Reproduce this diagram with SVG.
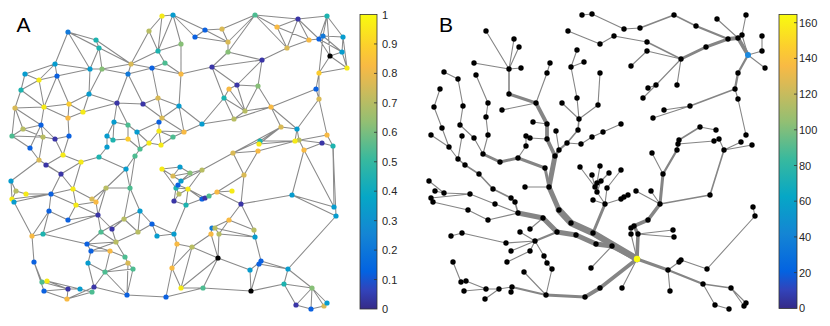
<svg xmlns="http://www.w3.org/2000/svg" width="830" height="326" viewBox="0 0 830 326">
<style>
.ea{fill:none;stroke:#8a8a8a;stroke-width:1.05}
.eb{fill:none;stroke:#858585;stroke-linecap:round;stroke-linejoin:round}
.I{fill:#3a35a6}.B{fill:#0b61e0}.B2{fill:#1279d9}.C{fill:#079cce}.T{fill:#1db3af}.G{fill:#4dbc91}.gO{fill:#87bf77}.O{fill:#b8bd63}.Ol{fill:#d9ba56}.Or{fill:#f8ba44}.Yo{fill:#fccc2e}.Y{fill:#f5ea18}.K{fill:#000}
.lab{font-family:"Liberation Sans",Arial,sans-serif;font-size:11px;fill:#262626}
.pl{font-family:"Liberation Sans",Arial,sans-serif;font-size:21px;fill:#000}
.cb{stroke:#333;stroke-width:0.8}
.tk{stroke:#333;stroke-width:0.8}
</style>
<defs>
<linearGradient id="parula" x1="0" y1="1" x2="0" y2="0">
<stop offset="0" stop-color="#352a87"/>
<stop offset="0.063" stop-color="#3243ba"/>
<stop offset="0.127" stop-color="#0363e1"/>
<stop offset="0.254" stop-color="#1485d4"/>
<stop offset="0.381" stop-color="#06a7c6"/>
<stop offset="0.508" stop-color="#38b99e"/>
<stop offset="0.635" stop-color="#92bf73"/>
<stop offset="0.762" stop-color="#d9ba56"/>
<stop offset="0.825" stop-color="#f8ba44"/>
<stop offset="0.889" stop-color="#fcce2e"/>
<stop offset="1" stop-color="#f9fb0e"/>
</linearGradient>
</defs>
<rect width="830" height="326" fill="#fff"/>
<text class="pl" x="16.5" y="32.3">A</text>
<text class="pl" x="439" y="32.3">B</text>

<g id="connectorsA" class="ea">
<path d="M68 32L96 40 M68 32L99 48 M68 32L55 64 M68 32L90 69 M68 32L131 64 M96 40L99 48 M96 40L131 64 M99 48L102 69 M99 48L90 69 M131 64L158 51 M131 64L149 31 M131 64L152 68 M131 64L128 74 M131 64L102 69 M149 31L162 16 M149 31L158 51 M162 16L173 15 M162 16L158 51 M173 15L158 51 M173 15L181 44 M158 51L165 63 M158 51L181 44 M165 63L181 74 M165 63L152 68 M152 68L181 74 M152 68L158 98 M55 64L25 74 M55 64L39 80 M55 64L57 76 M55 64L90 69 M25 74L39 80 M25 74L21 90 M39 80L57 76 M39 80L21 90 M39 80L44 107 M57 76L90 69 M57 76L69 104 M57 76L44 107 M90 69L102 69 M90 69L89 94 M102 69L128 74 M102 69L89 94 M128 74L152 68 M128 74L117 103 M128 74L143 104 M21 90L15 108 M21 90L44 107 M89 94L69 104 M89 94L83 112 M89 94L117 103 M15 108L44 107 M15 108L23 129 M15 108L12 136 M15 108L41 125 M44 107L69 104 M44 107L41 125 M44 107L68 118 M69 104L83 112 M69 104L68 118 M83 112L117 103 M83 112L68 118 M117 103L143 104 M117 103L114 122 M117 103L128 125 M143 104L158 98 M143 104L162 118 M158 98L179 106 M158 98L162 118 M162 118L179 106 M162 118L159 122 M41 125L23 129 M41 125L43 137 M41 125L55 139 M41 125L30 148 M23 129L12 136 M23 129L43 137 M12 136L43 137 M12 136L30 148 M43 137L55 139 M43 137L39 160 M55 139L69 136 M55 139L63 155 M68 118L69 136 M69 136L63 155 M114 122L107 136 M114 122L128 125 M114 122L113 140 M128 125L137 132 M128 125L128 139 M137 132L149 143 M137 132L140 149 M137 132L159 122 M159 122L159 131 M159 131L173 137 M159 131L149 143 M159 131L161 145 M149 143L161 145 M149 143L140 149 M107 136L113 140 M107 136L107 147 M113 140L128 139 M128 139L140 149 M140 149L135 156 M63 155L81 162 M63 155L46 165 M99 157L81 162 M179 106L181 74 M179 106L202 124 M179 106L184 132 M173 137L184 132 M173 137L161 145 M184 132L202 124 M162 118L184 132 M159 131L184 132 M30 148L39 160 M107 147L99 157 M99 157L126 169"/>
<path d="M11 181L39 160 M11 181L16 191 M11 181L12 199 M39 160L61 174 M46 165L61 174 M61 174L51 194 M61 174L73 189 M61 174L81 162 M81 162L73 189 M135 156L126 169 M135 156L130 188 M126 169L106 188 M126 169L130 188 M106 188L130 188 M106 188L92 199 M106 188L96 202 M106 188L98 215 M16 191L26 194 M16 191L12 199 M26 194L51 194 M12 199L51 194 M14 202L51 194 M14 202L32 236 M51 194L73 189 M51 194L49 211 M51 194L76 205 M73 189L76 205 M73 189L92 199 M92 199L96 202 M76 205L96 202 M76 205L98 215 M76 205L68 220 M49 211L68 220 M49 211L43 234 M49 211L32 236 M68 220L98 215 M43 234L98 215 M43 234L32 236 M96 202L98 215 M98 215L112 229 M98 215L101 232 M130 188L140 211 M130 188L124 219 M124 219L140 211 M124 219L112 229 M124 219L138 232 M124 219L101 232 M140 211L152 224 M140 211L138 232 M152 224L157 236 M152 224L174 234 M138 232L152 224 M138 232L116 242 M112 229L116 242 M101 232L116 242 M101 232L87 244 M43 234L87 244 M32 236L34 262 M34 262L42 282 M34 262L44 291 M42 282L47 281 M42 282L68 289 M47 281L68 289 M47 281L92 292 M44 291L68 289 M44 291L67 299 M68 289L80 289 M68 289L67 299 M80 289L92 292 M67 299L92 292 M67 299L94 287 M87 244L91 251 M87 244L116 242 M87 244L110 251 M91 251L110 251 M91 251L116 242 M110 251L125 257 M116 242L125 257 M91 251L88 263 M88 263L105 272 M88 263L94 287 M110 251L105 272 M125 257L128 263 M128 263L105 272 M128 263L133 269 M128 263L127 295 M105 272L94 287 M105 272L127 295 M105 272L133 269 M94 287L127 295 M133 269L127 295 M127 295L166 297 M166 297L172 268 M172 268L177 244 M172 268L181 288 M157 236L174 234 M174 234L177 244"/>
<path d="M173 15L195 37 M173 15L205 30 M205 30L222 29 M195 37L205 30 M195 37L228 42 M205 30L228 42 M222 29L255 15 M222 29L228 42 M228 42L255 15 M228 52L255 15 M228 42L228 52 M228 52L262 60 M228 52L212 67 M255 15L298 19 M255 15L277 27 M255 15L287 48 M277 27L298 19 M277 27L287 48 M277 27L309 40 M298 19L327 16 M298 19L287 48 M298 19L309 40 M298 19L319 39 M327 16L323 36 M327 16L343 37 M327 16L319 39 M327 16L330 56 M323 36L343 37 M319 39L342 52 M323 36L342 52 M309 40L319 39 M287 48L309 40 M287 48L262 60 M319 39L330 56 M343 37L342 52 M343 37L347 68 M330 56L347 68 M330 56L342 52 M330 56L319 73 M342 52L347 68 M319 73L347 68 M319 73L316 89 M319 73L319 99 M323 36L319 73 M316 89L271 107 M316 89L319 99 M319 99L327 135 M319 99L297 129 M262 60L258 86 M262 60L237 85 M262 60L212 67 M212 67L181 74 M212 67L237 85 M212 67L224 98 M181 44L181 74 M237 85L229 89 M237 85L258 86 M237 85L245 111 M229 89L224 98 M229 89L245 111 M224 98L245 111 M224 98L234 119 M224 98L202 124 M258 86L245 111 M258 86L271 107 M245 111L271 107 M245 111L234 119 M271 107L281 127 M271 107L297 129 M234 119L202 124 M234 119L271 107 M281 127L297 129 M281 127L260 141 M281 127L259 144 M281 127L233 153 M297 129L295 141 M297 129L299 140 M295 141L327 135 M299 140L322 143 M299 140L304 150 M327 135L333 146 M322 143L333 146 M304 150L322 143 M260 141L295 141 M259 144L295 141 M258 151L299 140 M233 153L260 141 M233 153L258 151 M333 146L334 207"/>
<path d="M180 167L190 173 M190 173L202 170 M202 170L233 153 M188 189L202 170 M244 175L233 153 M244 175L258 151 M244 175L217 192 M244 175L241 204 M217 192L232 191 M217 192L241 204 M209 196L217 192 M202 199L209 196 M241 204L229 220 M241 204L254 230 M241 204L292 195 M292 195L304 150 M292 195L334 207 M292 195L336 216 M304 150L334 207 M333 146L336 216 M336 216L288 269 M229 220L212 228 M229 220L254 230 M229 220L219 234 M212 228L211 234 M215 228L219 234 M211 234L218 258 M219 234L218 258 M219 234L255 237 M215 228L255 237 M254 230L255 237 M255 237L261 261 M186 205L174 234 M192 247L177 244 M192 247L218 258 M192 247L211 234 M192 247L172 268 M192 247L181 288 M218 258L250 270 M218 258L203 288 M218 258L181 288 M250 270L261 261 M250 270L251 291 M259 264L288 269 M261 261L288 269 M251 291L259 264 M251 291L284 284 M284 284L288 269 M251 291L203 288 M203 288L181 288 M288 269L312 288 M284 284L312 288 M284 284L296 305 M312 288L296 305 M312 288L311 309 M312 288L324 306 M312 288L327 303 M296 305L311 309 M311 309L324 306 M324 306L327 303 M166 297L203 288"/>
<path d="M162 169L180 167 M162 169L173 176 M162 169L176 188 M173 176L180 167 M173 176L181 181 M173 176L190 173 M181 181L190 173 M181 181L178 185 M178 185L188 189 M176 188L188 189 M176 188L179 194 M179 194L188 189 M179 194L174 201 M174 201L186 205 M186 205L188 189 M186 205L202 199 M188 189L202 199 M188 189L205 198 M174 201L176 188 M181 181L202 170"/>
</g>

<g id="nodesA">
<g id="a1"><circle class="Y" cx="162" cy="16" r="2.6"/></g>
<g id="a2"><circle class="C" cx="173" cy="15" r="2.6"/></g>
<g id="a3"><circle class="O" cx="149" cy="31" r="2.6"/></g>
<g id="a4"><circle class="gO" cx="181" cy="44" r="2.6"/></g>
<g id="a5"><circle class="B2" cx="68" cy="32" r="2.6"/></g>
<g id="a6"><circle class="T" cx="96" cy="40" r="2.6"/></g>
<g id="a7"><circle class="T" cx="99" cy="48" r="2.6"/></g>
<g id="a8"><circle class="T" cx="158" cy="51" r="2.6"/></g>
<g id="a9"><circle class="G" cx="165" cy="63" r="2.6"/></g>
<g id="a10"><circle class="Ol" cx="131" cy="64" r="2.6"/></g>
<g id="a11"><circle class="B" cx="152" cy="68" r="2.6"/></g>
<g id="a12"><circle class="C" cx="55" cy="64" r="2.6"/></g>
<g id="a13"><circle class="C" cx="90" cy="69" r="2.6"/></g>
<g id="a14"><circle class="gO" cx="102" cy="69" r="2.6"/></g>
<g id="a15"><circle class="C" cx="25" cy="74" r="2.6"/></g>
<g id="a16"><circle class="Y" cx="39" cy="80" r="2.6"/></g>
<g id="a17"><circle class="B" cx="57" cy="76" r="2.6"/></g>
<g id="a18"><circle class="B2" cx="128" cy="74" r="2.6"/></g>
<g id="a19"><circle class="Or" cx="181" cy="74" r="2.6"/></g>
<g id="a20"><circle class="T" cx="21" cy="90" r="2.6"/></g>
<g id="a21"><circle class="C" cx="89" cy="94" r="2.6"/></g>
<g id="a22"><circle class="Ol" cx="15" cy="108" r="2.6"/></g>
<g id="a23"><circle class="Y" cx="44" cy="107" r="2.6"/></g>
<g id="a24"><circle class="Yo" cx="69" cy="104" r="2.6"/></g>
<g id="a25"><circle class="I" cx="117" cy="103" r="2.6"/></g>
<g id="a26"><circle class="I" cx="143" cy="104" r="2.6"/></g>
<g id="a27"><circle class="Ol" cx="158" cy="98" r="2.6"/></g>
<g id="a28"><circle class="C" cx="179" cy="106" r="2.6"/></g>
<g id="a29"><circle class="Y" cx="83" cy="112" r="2.6"/></g>
<g id="a30"><circle class="Or" cx="68" cy="118" r="2.6"/></g>
<g id="a31"><circle class="C" cx="114" cy="122" r="2.6"/></g>
<g id="a32"><circle class="G" cx="128" cy="125" r="2.6"/></g>
<g id="a33"><circle class="B" cx="41" cy="125" r="2.6"/></g>
<g id="a34"><circle class="O" cx="23" cy="129" r="2.6"/></g>
<g id="a35"><circle class="G" cx="12" cy="136" r="2.6"/></g>
<g id="a36"><circle class="O" cx="43" cy="137" r="2.6"/></g>
<g id="a37"><circle class="I" cx="55" cy="139" r="2.6"/></g>
<g id="a38"><circle class="B" cx="69" cy="136" r="2.6"/></g>
<g id="a39"><circle class="C" cx="107" cy="136" r="2.6"/></g>
<g id="a40"><circle class="T" cx="113" cy="140" r="2.6"/></g>
<g id="a41"><circle class="Yo" cx="128" cy="139" r="2.6"/></g>
<g id="a42"><circle class="C" cx="137" cy="132" r="2.6"/></g>
<g id="a43"><circle class="B" cx="159" cy="122" r="2.6"/></g>
<g id="a44"><circle class="Y" cx="159" cy="131" r="2.6"/></g>
<g id="a45"><circle class="G" cx="173" cy="137" r="2.6"/></g>
<g id="a46"><circle class="Y" cx="149" cy="143" r="2.6"/></g>
<g id="a47"><circle class="Y" cx="161" cy="145" r="2.6"/></g>
<g id="a48"><circle class="C" cx="107" cy="147" r="2.6"/></g>
<g id="a49"><circle class="B" cx="30" cy="148" r="2.6"/></g>
<g id="a50"><circle class="G" cx="140" cy="149" r="2.6"/></g>
<g id="a51"><circle class="G" cx="135" cy="156" r="2.6"/></g>
<g id="a52"><circle class="Y" cx="63" cy="155" r="2.6"/></g>
<g id="a53"><circle class="T" cx="99" cy="157" r="2.6"/></g>
<g id="a54"><circle class="Ol" cx="39" cy="160" r="2.6"/></g>
<g id="a55"><circle class="I" cx="46" cy="165" r="2.6"/></g>
<g id="a56"><circle class="Y" cx="81" cy="162" r="2.6"/></g>
<g id="a57"><circle class="G" cx="255" cy="15" r="2.6"/></g>
<g id="a58"><circle class="T" cx="327" cy="16" r="2.6"/></g>
<g id="a59"><circle class="I" cx="298" cy="19" r="2.6"/></g>
<g id="a60"><circle class="Or" cx="277" cy="27" r="2.6"/></g>
<g id="a61"><circle class="B" cx="205" cy="30" r="2.6"/></g>
<g id="a62"><circle class="Ol" cx="222" cy="29" r="2.6"/></g>
<g id="a63"><circle class="B" cx="195" cy="37" r="2.6"/></g>
<g id="a64"><circle class="Ol" cx="228" cy="42" r="2.6"/></g>
<g id="a65"><circle class="gO" cx="228" cy="52" r="2.6"/></g>
<g id="a66"><circle class="Ol" cx="287" cy="48" r="2.6"/></g>
<g id="a67"><circle class="Or" cx="309" cy="40" r="2.6"/></g>
<g id="a68"><circle class="B" cx="319" cy="39" r="2.6"/></g>
<g id="a69"><circle class="B2" cx="323" cy="36" r="2.6"/></g>
<g id="a70"><circle class="C" cx="343" cy="37" r="2.6"/></g>
<g id="a71"><circle class="C" cx="342" cy="52" r="2.6"/></g>
<g id="a72"><circle class="K" cx="330" cy="56" r="2.6"/></g>
<g id="a73"><circle class="Y" cx="347" cy="68" r="2.6"/></g>
<g id="a74"><circle class="Yo" cx="319" cy="73" r="2.6"/></g>
<g id="a75"><circle class="I" cx="262" cy="60" r="2.6"/></g>
<g id="a76"><circle class="I" cx="212" cy="67" r="2.6"/></g>
<g id="a77"><circle class="B" cx="316" cy="89" r="2.6"/></g>
<g id="a78"><circle class="Ol" cx="319" cy="99" r="2.6"/></g>
<g id="a79"><circle class="I" cx="237" cy="85" r="2.6"/></g>
<g id="a80"><circle class="Or" cx="229" cy="89" r="2.6"/></g>
<g id="a81"><circle class="gO" cx="258" cy="86" r="2.6"/></g>
<g id="a82"><circle class="T" cx="224" cy="98" r="2.6"/></g>
<g id="a83"><circle class="O" cx="245" cy="111" r="2.6"/></g>
<g id="a84"><circle class="Or" cx="271" cy="107" r="2.6"/></g>
<g id="a85"><circle class="O" cx="234" cy="119" r="2.6"/></g>
<g id="a86"><circle class="C" cx="202" cy="124" r="2.6"/></g>
<g id="a87"><circle class="Ol" cx="281" cy="127" r="2.6"/></g>
<g id="a88"><circle class="C" cx="297" cy="129" r="2.6"/></g>
<g id="a89"><circle class="Or" cx="184" cy="132" r="2.6"/></g>
<g id="a90"><circle class="Or" cx="327" cy="135" r="2.6"/></g>
<g id="a91"><circle class="I" cx="322" cy="143" r="2.6"/></g>
<g id="a92"><circle class="T" cx="333" cy="146" r="2.6"/></g>
<g id="a93"><circle class="O" cx="299" cy="140" r="2.6"/></g>
<g id="a94"><circle class="Y" cx="295" cy="141" r="2.6"/></g>
<g id="a95"><circle class="Or" cx="304" cy="150" r="2.6"/></g>
<g id="a96"><circle class="T" cx="260" cy="141" r="2.6"/></g>
<g id="a97"><circle class="Y" cx="259" cy="144" r="2.6"/></g>
<g id="a98"><circle class="Or" cx="258" cy="151" r="2.6"/></g>
<g id="a99"><circle class="Ol" cx="233" cy="153" r="2.6"/></g>
<g id="a100"><circle class="I" cx="61" cy="174" r="2.6"/></g>
<g id="a101"><circle class="C" cx="126" cy="169" r="2.6"/></g>
<g id="a102"><circle class="C" cx="11" cy="181" r="2.6"/></g>
<g id="a103"><circle class="O" cx="16" cy="191" r="2.6"/></g>
<g id="a104"><circle class="Y" cx="26" cy="194" r="2.6"/></g>
<g id="a105"><circle class="Y" cx="12" cy="199" r="2.6"/></g>
<g id="a106"><circle class="C" cx="14" cy="202" r="2.6"/></g>
<g id="a107"><circle class="B" cx="51" cy="194" r="2.6"/></g>
<g id="a108"><circle class="Y" cx="73" cy="189" r="2.6"/></g>
<g id="a109"><circle class="O" cx="106" cy="188" r="2.6"/></g>
<g id="a110"><circle class="G" cx="130" cy="188" r="2.6"/></g>
<g id="a111"><circle class="Ol" cx="92" cy="199" r="2.6"/></g>
<g id="a112"><circle class="Or" cx="96" cy="202" r="2.6"/></g>
<g id="a113"><circle class="Y" cx="76" cy="205" r="2.6"/></g>
<g id="a114"><circle class="B" cx="49" cy="211" r="2.6"/></g>
<g id="a115"><circle class="I" cx="98" cy="215" r="2.6"/></g>
<g id="a116"><circle class="B" cx="68" cy="220" r="2.6"/></g>
<g id="a117"><circle class="C" cx="140" cy="211" r="2.6"/></g>
<g id="a118"><circle class="O" cx="124" cy="219" r="2.6"/></g>
<g id="a119"><circle class="I" cx="112" cy="229" r="2.6"/></g>
<g id="a120"><circle class="B" cx="152" cy="224" r="2.6"/></g>
<g id="a121"><circle class="G" cx="101" cy="232" r="2.6"/></g>
<g id="a122"><circle class="O" cx="138" cy="232" r="2.6"/></g>
<g id="a123"><circle class="C" cx="157" cy="236" r="2.6"/></g>
<g id="a124"><circle class="C" cx="174" cy="234" r="2.6"/></g>
<g id="a125"><circle class="Or" cx="177" cy="244" r="2.6"/></g>
<g id="a126"><circle class="Or" cx="32" cy="236" r="2.6"/></g>
<g id="a127"><circle class="T" cx="43" cy="234" r="2.6"/></g>
<g id="a128"><circle class="B" cx="87" cy="244" r="2.6"/></g>
<g id="a129"><circle class="O" cx="116" cy="242" r="2.6"/></g>
<g id="a130"><circle class="B" cx="91" cy="251" r="2.6"/></g>
<g id="a131"><circle class="Or" cx="110" cy="251" r="2.6"/></g>
<g id="a132"><circle class="G" cx="125" cy="257" r="2.6"/></g>
<g id="a133"><circle class="Ol" cx="128" cy="263" r="2.6"/></g>
<g id="a134"><circle class="G" cx="133" cy="269" r="2.6"/></g>
<g id="a135"><circle class="C" cx="88" cy="263" r="2.6"/></g>
<g id="a136"><circle class="G" cx="105" cy="272" r="2.6"/></g>
<g id="a137"><circle class="B" cx="34" cy="262" r="2.6"/></g>
<g id="a138"><circle class="Or" cx="172" cy="268" r="2.6"/></g>
<g id="a139"><circle class="G" cx="42" cy="282" r="2.6"/></g>
<g id="a140"><circle class="Y" cx="47" cy="281" r="2.6"/></g>
<g id="a141"><circle class="B" cx="44" cy="291" r="2.6"/></g>
<g id="a142"><circle class="I" cx="68" cy="289" r="2.6"/></g>
<g id="a143"><circle class="C" cx="80" cy="289" r="2.6"/></g>
<g id="a144"><circle class="G" cx="92" cy="292" r="2.6"/></g>
<g id="a145"><circle class="I" cx="94" cy="287" r="2.6"/></g>
<g id="a146"><circle class="Or" cx="67" cy="299" r="2.6"/></g>
<g id="a147"><circle class="B" cx="127" cy="295" r="2.6"/></g>
<g id="a148"><circle class="B" cx="166" cy="297" r="2.6"/></g>
<g id="a149"><circle class="Y" cx="181" cy="288" r="2.6"/></g>
<g id="a150"><circle class="Y" cx="162" cy="169" r="2.6"/></g>
<g id="a151"><circle class="C" cx="180" cy="167" r="2.6"/></g>
<g id="a152"><circle class="Ol" cx="173" cy="176" r="2.6"/></g>
<g id="a153"><circle class="T" cx="176" cy="188" r="2.6"/></g>
<g id="a154"><circle class="B" cx="178" cy="185" r="2.6"/></g>
<g id="a155"><circle class="I" cx="174" cy="201" r="2.6"/></g>
<g id="a156"><circle class="O" cx="179" cy="194" r="2.6"/></g>
<g id="a157"><circle class="gO" cx="190" cy="173" r="2.6"/></g>
<g id="a158"><circle class="O" cx="202" cy="170" r="2.6"/></g>
<g id="a159"><circle class="C" cx="181" cy="181" r="2.6"/></g>
<g id="a160"><circle class="Y" cx="188" cy="189" r="2.6"/></g>
<g id="a161"><circle class="T" cx="186" cy="205" r="2.6"/></g>
<g id="a162"><circle class="B" cx="202" cy="199" r="2.6"/></g>
<g id="a163"><circle class="I" cx="205" cy="198" r="2.6"/></g>
<g id="a164"><circle class="G" cx="209" cy="196" r="2.6"/></g>
<g id="a165"><circle class="Or" cx="217" cy="192" r="2.6"/></g>
<g id="a166"><circle class="Y" cx="232" cy="191" r="2.6"/></g>
<g id="a167"><circle class="Ol" cx="244" cy="175" r="2.6"/></g>
<g id="a168"><circle class="I" cx="241" cy="204" r="2.6"/></g>
<g id="a169"><circle class="C" cx="292" cy="195" r="2.6"/></g>
<g id="a170"><circle class="C" cx="334" cy="207" r="2.6"/></g>
<g id="a171"><circle class="C" cx="336" cy="216" r="2.6"/></g>
<g id="a172"><circle class="Or" cx="229" cy="220" r="2.6"/></g>
<g id="a173"><circle class="B2" cx="212" cy="228" r="2.6"/></g>
<g id="a174"><circle class="O" cx="215" cy="228" r="2.6"/></g>
<g id="a175"><circle class="Or" cx="211" cy="234" r="2.6"/></g>
<g id="a176"><circle class="O" cx="219" cy="234" r="2.6"/></g>
<g id="a177"><circle class="O" cx="254" cy="230" r="2.6"/></g>
<g id="a178"><circle class="C" cx="255" cy="237" r="2.6"/></g>
<g id="a179"><circle class="O" cx="192" cy="247" r="2.6"/></g>
<g id="a180"><circle class="K" cx="218" cy="258" r="2.6"/></g>
<g id="a181"><circle class="B" cx="261" cy="261" r="2.6"/></g>
<g id="a182"><circle class="B" cx="259" cy="264" r="2.6"/></g>
<g id="a183"><circle class="C" cx="250" cy="270" r="2.6"/></g>
<g id="a184"><circle class="C" cx="288" cy="269" r="2.6"/></g>
<g id="a185"><circle class="T" cx="284" cy="284" r="2.6"/></g>
<g id="a186"><circle class="gO" cx="312" cy="288" r="2.6"/></g>
<g id="a187"><circle class="K" cx="251" cy="291" r="2.6"/></g>
<g id="a188"><circle class="G" cx="203" cy="288" r="2.6"/></g>
<g id="a189"><circle class="I" cx="296" cy="305" r="2.6"/></g>
<g id="a190"><circle class="B" cx="311" cy="309" r="2.6"/></g>
<g id="a191"><circle class="Ol" cx="324" cy="306" r="2.6"/></g>
<g id="a192"><circle class="C" cx="327" cy="303" r="2.6"/></g>
<g id="a193"><circle class="Ol" cx="162" cy="118" r="2.6"/></g>
</g>

<g id="colorbarA">
<rect x="360" y="14.5" width="17" height="294.5" fill="url(#parula)" class="cb"/>
<path class="tk" d="M374 279.55H377 M374 250.1H377 M374 220.65H377 M374 191.2H377 M374 161.75H377 M374 132.3H377 M374 102.85H377 M374 73.4H377 M374 43.95H377"/>
<text class="lab" x="382" y="313">0</text>
<text class="lab" x="382" y="283.5">0.1</text>
<text class="lab" x="382" y="254">0.2</text>
<text class="lab" x="382" y="224.6">0.3</text>
<text class="lab" x="382" y="195.2">0.4</text>
<text class="lab" x="382" y="165.7">0.5</text>
<text class="lab" x="382" y="136.3">0.6</text>
<text class="lab" x="382" y="106.8">0.7</text>
<text class="lab" x="382" y="77.4">0.8</text>
<text class="lab" x="382" y="47.9">0.9</text>
<text class="lab" x="382" y="18.5">1</text>
</g>

<g id="connectorsB" class="eb">
<path stroke-width="1.1" d="M582 15L592 14L624 29L640 28 M717 19L738 38 M746 15L742 35L748 55 M762 36L762 51L748 55 M765 68L748 55 M568 31L600 44L614 36L647 42 M647 51L681 59 M631 66L647 51 M681 59L677 85 M681 59L656 85L643 98 M656 85L648 88 M690 106L664 110 M690 106L653 118 M735 89L738 99L746 135 M716 130L700 127 M678 144L714 141L719 139L724 150 M741 142L724 150 M752 145L724 150 M652 153L663 174 M660 204L636 191 M660 204L651 191 M634 226L631 228 M631 234L637 259 M638 234L673 230 M638 234L674 237 M600 73L598 105L579 119 M621 124L603 132L592 137L581 144L567 143 M486 31L509 69 M514 39L509 69 M519 47L509 69 M474 63L509 69 M521 68L509 69 M502 110L536 103 M550 63L547 73L536 103 M533 122L547 124 M530 138L547 139 M526 136L526 146L518 158 M577 50L571 67 M584 62L571 67 M571 67L577 98L579 119 M562 103L579 119 M444 72L458 79L463 106L460 125L474 138L483 154 M440 89L434 107L442 128L449 147L458 159 M431 135L449 147 M462 136L458 159 M476 75L488 103L486 117L488 135L483 154 M525 187L549 187 M556 131L559 150 M429 181L444 193 M435 191L444 193 M444 193L470 194 M431 198L470 194 M470 194L495 204L518 213 M433 202L468 210L488 220L518 213 M530 229L543 218 M591 268L612 246 M451 236L462 233L506 243L535 241 M520 232L535 241 M511 251L535 241 M530 251L535 241 M507 262L530 251 M535 241L544 256L547 263L552 269L546 295 M524 272L546 295 M453 262L461 282L466 281L486 289L499 289L512 287 M464 291L486 289 M485 299L499 289 M511 292L512 287 M622 288L637 259 M668 270L670 291 M668 270L679 262L681 260L707 269L755 216L753 207 M731 288L746 303 M731 288L744 306 M703 284L715 305L729 309 M593 200L605 204 M605 204L597 192 M597 192L595 187L592 175 M595 187L580 167 M597 192L597 183L600 166 M597 192L601 181L609 173 M605 204L607 188L621 170 M605 204L621 199L624 197L628 195"/>
<path stroke-width="1.6" d="M640 28L674 15L696 26 M647 42L681 59 M735 89L690 106 M724 150L710 195L660 204 M703 284L731 288 M458 159L465 165L479 174L493 189L511 198L515 202L518 213 M579 119L578 130L567 143 M509 69L509 94 M677 150L678 144L679 140L700 127"/>
<path stroke-width="2.3" d="M567 143L559 150 M668 270L703 284 M748 55L738 73L735 89 M512 287L546 295 M535 241L557 232 M696 26L728 39 M663 174L677 150"/>
<path stroke-width="3" d="M509 94L536 103 M483 154L500 162L518 158L545 168L549 187 M546 295L585 297 M637 259L668 270 M593 233L605 204 M681 59L706 47L728 39 M559 150L555 156 M663 174L660 204"/>
<path stroke-width="3.6" d="M660 204L648 220L634 226L638 234L637 259"/>
<path stroke-width="3.8" d="M536 103L547 124L547 139L555 156 M585 297L600 288L637 259 M728 39L738 38L748 55"/>
<path stroke-width="5" d="M555 156L549 187L559 210 M518 213L543 218L557 232L576 235L596 244L612 246L637 259"/>
<path stroke-width="6.5" d="M559 210L571 223L593 233L637 259"/>
</g>

<g id="nodesB" fill="#000">
<g id="b1"><circle cx="582" cy="15" r="2.7"/></g>
<g id="b2"><circle cx="592" cy="14" r="2.7"/></g>
<g id="b3"><circle cx="624" cy="29" r="2.7"/></g>
<g id="b4"><circle cx="640" cy="28" r="2.7"/></g>
<g id="b5"><circle cx="674" cy="15" r="2.7"/></g>
<g id="b6"><circle cx="696" cy="26" r="2.7"/></g>
<g id="b7"><circle cx="728" cy="39" r="2.7"/></g>
<g id="b8"><circle cx="738" cy="38" r="2.7"/></g>
<g id="b9"><circle cx="717" cy="19" r="2.7"/></g>
<g id="b10"><circle cx="746" cy="15" r="2.7"/></g>
<g id="b11"><circle cx="742" cy="35" r="2.7"/></g>
<g id="b12"><circle cx="762" cy="36" r="2.7"/></g>
<g id="b13"><circle cx="762" cy="51" r="2.7"/></g>
<g id="b14"><circle cx="765" cy="68" r="2.7"/></g>
<g id="b15"><circle cx="568" cy="31" r="2.7"/></g>
<g id="b16"><circle cx="600" cy="44" r="2.7"/></g>
<g id="b17"><circle cx="614" cy="36" r="2.7"/></g>
<g id="b18"><circle cx="647" cy="42" r="2.7"/></g>
<g id="b19"><circle cx="681" cy="59" r="2.7"/></g>
<g id="b20"><circle cx="706" cy="47" r="2.7"/></g>
<g id="b21"><circle cx="647" cy="51" r="2.7"/></g>
<g id="b22"><circle cx="631" cy="66" r="2.7"/></g>
<g id="b23"><circle cx="677" cy="85" r="2.7"/></g>
<g id="b24"><circle cx="656" cy="85" r="2.7"/></g>
<g id="b25"><circle cx="648" cy="88" r="2.7"/></g>
<g id="b26"><circle cx="643" cy="98" r="2.7"/></g>
<g id="b27"><circle cx="738" cy="73" r="2.7"/></g>
<g id="b28"><circle cx="735" cy="89" r="2.7"/></g>
<g id="b29"><circle cx="690" cy="106" r="2.7"/></g>
<g id="b30"><circle cx="664" cy="110" r="2.7"/></g>
<g id="b31"><circle cx="653" cy="118" r="2.7"/></g>
<g id="b32"><circle cx="738" cy="99" r="2.7"/></g>
<g id="b33"><circle cx="746" cy="135" r="2.7"/></g>
<g id="b34"><circle cx="700" cy="127" r="2.7"/></g>
<g id="b35"><circle cx="716" cy="130" r="2.7"/></g>
<g id="b36"><circle cx="679" cy="140" r="2.7"/></g>
<g id="b37"><circle cx="678" cy="144" r="2.7"/></g>
<g id="b38"><circle cx="714" cy="141" r="2.7"/></g>
<g id="b39"><circle cx="719" cy="139" r="2.7"/></g>
<g id="b40"><circle cx="741" cy="142" r="2.7"/></g>
<g id="b41"><circle cx="752" cy="145" r="2.7"/></g>
<g id="b42"><circle cx="724" cy="150" r="2.7"/></g>
<g id="b43"><circle cx="677" cy="150" r="2.7"/></g>
<g id="b44"><circle cx="652" cy="153" r="2.7"/></g>
<g id="b45"><circle cx="600" cy="73" r="2.7"/></g>
<g id="b46"><circle cx="598" cy="105" r="2.7"/></g>
<g id="b47"><circle cx="621" cy="124" r="2.7"/></g>
<g id="b48"><circle cx="603" cy="132" r="2.7"/></g>
<g id="b49"><circle cx="592" cy="137" r="2.7"/></g>
<g id="b50"><circle cx="486" cy="31" r="2.7"/></g>
<g id="b51"><circle cx="514" cy="39" r="2.7"/></g>
<g id="b52"><circle cx="519" cy="47" r="2.7"/></g>
<g id="b53"><circle cx="474" cy="63" r="2.7"/></g>
<g id="b54"><circle cx="509" cy="69" r="2.7"/></g>
<g id="b55"><circle cx="521" cy="68" r="2.7"/></g>
<g id="b56"><circle cx="550" cy="63" r="2.7"/></g>
<g id="b57"><circle cx="547" cy="73" r="2.7"/></g>
<g id="b58"><circle cx="577" cy="50" r="2.7"/></g>
<g id="b59"><circle cx="571" cy="67" r="2.7"/></g>
<g id="b60"><circle cx="584" cy="62" r="2.7"/></g>
<g id="b61"><circle cx="444" cy="72" r="2.7"/></g>
<g id="b62"><circle cx="458" cy="79" r="2.7"/></g>
<g id="b63"><circle cx="476" cy="75" r="2.7"/></g>
<g id="b64"><circle cx="440" cy="89" r="2.7"/></g>
<g id="b65"><circle cx="509" cy="94" r="2.7"/></g>
<g id="b66"><circle cx="536" cy="103" r="2.7"/></g>
<g id="b67"><circle cx="577" cy="98" r="2.7"/></g>
<g id="b68"><circle cx="562" cy="103" r="2.7"/></g>
<g id="b69"><circle cx="434" cy="107" r="2.7"/></g>
<g id="b70"><circle cx="463" cy="106" r="2.7"/></g>
<g id="b71"><circle cx="488" cy="103" r="2.7"/></g>
<g id="b72"><circle cx="502" cy="110" r="2.7"/></g>
<g id="b73"><circle cx="486" cy="117" r="2.7"/></g>
<g id="b74"><circle cx="533" cy="122" r="2.7"/></g>
<g id="b75"><circle cx="547" cy="124" r="2.7"/></g>
<g id="b76"><circle cx="579" cy="119" r="2.7"/></g>
<g id="b77"><circle cx="442" cy="128" r="2.7"/></g>
<g id="b78"><circle cx="460" cy="125" r="2.7"/></g>
<g id="b79"><circle cx="578" cy="130" r="2.7"/></g>
<g id="b80"><circle cx="581" cy="144" r="2.7"/></g>
<g id="b81"><circle cx="431" cy="135" r="2.7"/></g>
<g id="b82"><circle cx="462" cy="136" r="2.7"/></g>
<g id="b83"><circle cx="474" cy="138" r="2.7"/></g>
<g id="b84"><circle cx="488" cy="135" r="2.7"/></g>
<g id="b85"><circle cx="526" cy="136" r="2.7"/></g>
<g id="b86"><circle cx="530" cy="138" r="2.7"/></g>
<g id="b87"><circle cx="547" cy="139" r="2.7"/></g>
<g id="b88"><circle cx="556" cy="131" r="2.7"/></g>
<g id="b89"><circle cx="567" cy="143" r="2.7"/></g>
<g id="b90"><circle cx="559" cy="150" r="2.7"/></g>
<g id="b91"><circle cx="526" cy="146" r="2.7"/></g>
<g id="b92"><circle cx="449" cy="147" r="2.7"/></g>
<g id="b93"><circle cx="483" cy="154" r="2.7"/></g>
<g id="b94"><circle cx="518" cy="158" r="2.7"/></g>
<g id="b95"><circle cx="555" cy="156" r="2.7"/></g>
<g id="b96"><circle cx="458" cy="159" r="2.7"/></g>
<g id="b97"><circle cx="500" cy="162" r="2.7"/></g>
<g id="b98"><circle cx="465" cy="165" r="2.7"/></g>
<g id="b99"><circle cx="545" cy="168" r="2.7"/></g>
<g id="b100"><circle cx="479" cy="174" r="2.7"/></g>
<g id="b101"><circle cx="429" cy="181" r="2.7"/></g>
<g id="b102"><circle cx="435" cy="191" r="2.7"/></g>
<g id="b103"><circle cx="444" cy="193" r="2.7"/></g>
<g id="b104"><circle cx="470" cy="194" r="2.7"/></g>
<g id="b105"><circle cx="431" cy="198" r="2.7"/></g>
<g id="b106"><circle cx="433" cy="202" r="2.7"/></g>
<g id="b107"><circle cx="525" cy="187" r="2.7"/></g>
<g id="b108"><circle cx="549" cy="187" r="2.7"/></g>
<g id="b109"><circle cx="493" cy="189" r="2.7"/></g>
<g id="b110"><circle cx="511" cy="198" r="2.7"/></g>
<g id="b111"><circle cx="515" cy="202" r="2.7"/></g>
<g id="b112"><circle cx="495" cy="204" r="2.7"/></g>
<g id="b113"><circle cx="468" cy="210" r="2.7"/></g>
<g id="b114"><circle cx="559" cy="210" r="2.7"/></g>
<g id="b115"><circle cx="518" cy="213" r="2.7"/></g>
<g id="b116"><circle cx="488" cy="220" r="2.7"/></g>
<g id="b117"><circle cx="543" cy="218" r="2.7"/></g>
<g id="b118"><circle cx="571" cy="223" r="2.7"/></g>
<g id="b119"><circle cx="530" cy="229" r="2.7"/></g>
<g id="b120"><circle cx="520" cy="232" r="2.7"/></g>
<g id="b121"><circle cx="557" cy="232" r="2.7"/></g>
<g id="b122"><circle cx="576" cy="235" r="2.7"/></g>
<g id="b123"><circle cx="593" cy="233" r="2.7"/></g>
<g id="b124"><circle cx="462" cy="233" r="2.7"/></g>
<g id="b125"><circle cx="451" cy="236" r="2.7"/></g>
<g id="b126"><circle cx="535" cy="241" r="2.7"/></g>
<g id="b127"><circle cx="506" cy="243" r="2.7"/></g>
<g id="b128"><circle cx="511" cy="251" r="2.7"/></g>
<g id="b129"><circle cx="530" cy="251" r="2.7"/></g>
<g id="b130"><circle cx="544" cy="256" r="2.7"/></g>
<g id="b131"><circle cx="547" cy="263" r="2.7"/></g>
<g id="b132"><circle cx="507" cy="262" r="2.7"/></g>
<g id="b133"><circle cx="552" cy="269" r="2.7"/></g>
<g id="b134"><circle cx="591" cy="268" r="2.7"/></g>
<g id="b135"><circle cx="524" cy="272" r="2.7"/></g>
<g id="b136"><circle cx="453" cy="262" r="2.7"/></g>
<g id="b137"><circle cx="461" cy="282" r="2.7"/></g>
<g id="b138"><circle cx="466" cy="281" r="2.7"/></g>
<g id="b139"><circle cx="464" cy="291" r="2.7"/></g>
<g id="b140"><circle cx="486" cy="289" r="2.7"/></g>
<g id="b141"><circle cx="499" cy="289" r="2.7"/></g>
<g id="b142"><circle cx="512" cy="287" r="2.7"/></g>
<g id="b143"><circle cx="511" cy="292" r="2.7"/></g>
<g id="b144"><circle cx="485" cy="299" r="2.7"/></g>
<g id="b145"><circle cx="546" cy="295" r="2.7"/></g>
<g id="b146"><circle cx="585" cy="297" r="2.7"/></g>
<g id="b147"><circle cx="580" cy="167" r="2.7"/></g>
<g id="b148"><circle cx="592" cy="175" r="2.7"/></g>
<g id="b149"><circle cx="595" cy="187" r="2.7"/></g>
<g id="b150"><circle cx="593" cy="200" r="2.7"/></g>
<g id="b151"><circle cx="600" cy="166" r="2.7"/></g>
<g id="b152"><circle cx="609" cy="173" r="2.7"/></g>
<g id="b153"><circle cx="621" cy="170" r="2.7"/></g>
<g id="b154"><circle cx="601" cy="181" r="2.7"/></g>
<g id="b155"><circle cx="597" cy="183" r="2.7"/></g>
<g id="b156"><circle cx="607" cy="188" r="2.7"/></g>
<g id="b157"><circle cx="597" cy="192" r="2.7"/></g>
<g id="b158"><circle cx="605" cy="204" r="2.7"/></g>
<g id="b159"><circle cx="621" cy="199" r="2.7"/></g>
<g id="b160"><circle cx="624" cy="197" r="2.7"/></g>
<g id="b161"><circle cx="628" cy="195" r="2.7"/></g>
<g id="b162"><circle cx="663" cy="174" r="2.7"/></g>
<g id="b163"><circle cx="710" cy="195" r="2.7"/></g>
<g id="b164"><circle cx="636" cy="191" r="2.7"/></g>
<g id="b165"><circle cx="651" cy="191" r="2.7"/></g>
<g id="b166"><circle cx="660" cy="204" r="2.7"/></g>
<g id="b167"><circle cx="648" cy="220" r="2.7"/></g>
<g id="b168"><circle cx="631" cy="228" r="2.7"/></g>
<g id="b169"><circle cx="634" cy="226" r="2.7"/></g>
<g id="b170"><circle cx="631" cy="234" r="2.7"/></g>
<g id="b171"><circle cx="638" cy="234" r="2.7"/></g>
<g id="b172"><circle cx="673" cy="230" r="2.7"/></g>
<g id="b173"><circle cx="674" cy="237" r="2.7"/></g>
<g id="b174"><circle cx="596" cy="244" r="2.7"/></g>
<g id="b175"><circle cx="612" cy="246" r="2.7"/></g>
<g id="b176"><circle cx="622" cy="288" r="2.7"/></g>
<g id="b177"><circle cx="600" cy="288" r="2.7"/></g>
<g id="b178"><circle cx="679" cy="262" r="2.7"/></g>
<g id="b179"><circle cx="681" cy="260" r="2.7"/></g>
<g id="b180"><circle cx="668" cy="270" r="2.7"/></g>
<g id="b181"><circle cx="707" cy="269" r="2.7"/></g>
<g id="b182"><circle cx="753" cy="207" r="2.7"/></g>
<g id="b183"><circle cx="755" cy="216" r="2.7"/></g>
<g id="b184"><circle cx="670" cy="291" r="2.7"/></g>
<g id="b185"><circle cx="703" cy="284" r="2.7"/></g>
<g id="b186"><circle cx="731" cy="288" r="2.7"/></g>
<g id="b187"><circle cx="715" cy="305" r="2.7"/></g>
<g id="b188"><circle cx="729" cy="309" r="2.7"/></g>
<g id="b189"><circle cx="744" cy="306" r="2.7"/></g>
<g id="b190"><circle cx="746" cy="303" r="2.7"/></g>
<g id="b191"><circle cx="748" cy="55" r="3" fill="#1b8ae0"/></g>
<g id="b192"><circle cx="637" cy="259" r="3.2" fill="#f9fb0e"/></g>
</g>

<g id="colorbarB">
<rect x="779" y="14.5" width="18" height="294" fill="url(#parula)" class="cb"/>
<path class="tk" d="M794 272.6H797 M794 236.9H797 M794 201.2H797 M794 165.5H797 M794 129.8H797 M794 94.1H797 M794 58.4H797 M794 22.7H797"/>
<text class="lab" x="799" y="312.3">0</text>
<text class="lab" x="799" y="276.6">20</text>
<text class="lab" x="799" y="240.9">40</text>
<text class="lab" x="799" y="205.2">60</text>
<text class="lab" x="799" y="169.5">80</text>
<text class="lab" x="799" y="133.8">100</text>
<text class="lab" x="799" y="98.1">120</text>
<text class="lab" x="799" y="62.4">140</text>
<text class="lab" x="799" y="26.7">160</text>
</g>
</svg>
